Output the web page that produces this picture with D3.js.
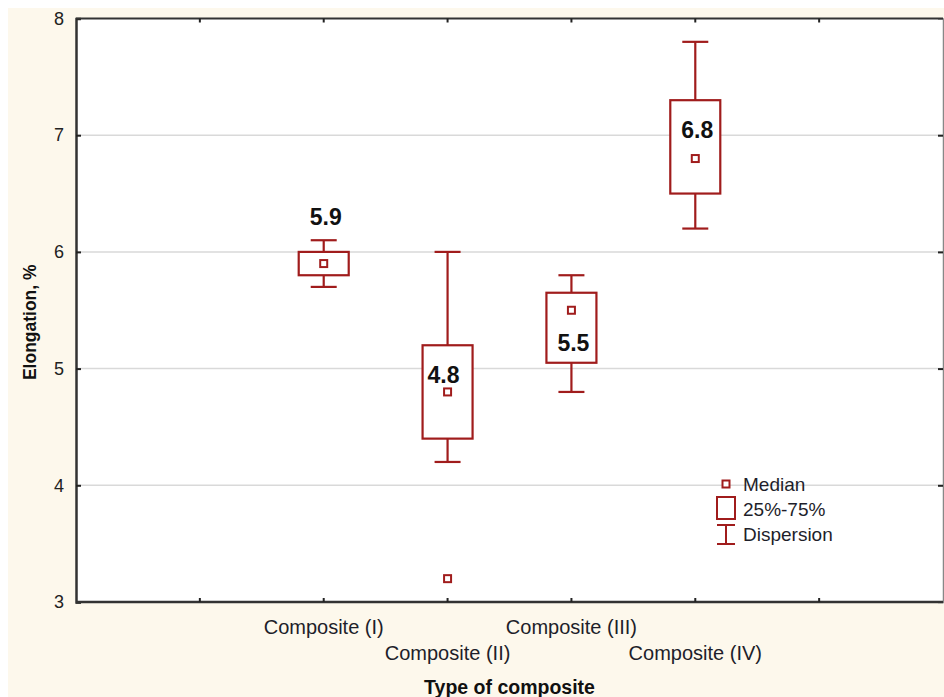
<!DOCTYPE html>
<html>
<head>
<meta charset="utf-8">
<script src="https://cdn.jsdelivr.net/npm/d3@7.9.0/dist/d3.min.js"></script>
<style>
  html, body { margin: 0; padding: 0; background: #fff; }
  svg { display: block; font-family: "Liberation Sans", Arial, sans-serif; }
</style>
</head>
<body>
<svg id="chart" width="944" height="697"></svg>
<script>
// box plot values
const categories = ['Composite (I)', 'Composite (II)', 'Composite (III)', 'Composite (IV)'];
const medians = [5.9, 4.8, 5.5, 6.8];
const q1 = [5.8, 4.4, 5.05, 6.5];
const q3 = [6.0, 5.2, 5.65, 7.3];
const whiskerLo = [5.7, 4.2, 4.8, 6.2];
const whiskerHi = [6.1, 6.0, 5.8, 7.8];
const outliers = [[], [3.2], [], []];
const labelAt = [6.3, 4.95, 5.22, 7.05];
const yTicks = [3, 4, 5, 6, 7, 8];

const red = '#a01c1c';
const svg = d3.select('#chart');

const margin = { left: 76, right: 1, top: 18.5, bottom: 95 };
const W = 944, H = 697;

let x = d3.scalePoint()
  .domain(categories)
  .range([margin.left, W - margin.right])
  .padding(2);

let y = d3.scaleLinear()
  .domain([3, 8])
  .range([H - margin.bottom, margin.top]);

// cream panel
svg.append('rect')
  .attr('x', 8).attr('y', 8)
  .attr('width', W - 8).attr('height', H - 8)
  .attr('fill', '#fdf8ec');

svg.append('rect')
  .attr('x', x.range()[0]).attr('y', y.range()[1])
  .attr('width', x.range()[1] - x.range()[0])
  .attr('height', y.range()[0] - y.range()[1])
  .attr('fill', '#fff');

// grid
svg.append('g')
  .selectAll('line')
  .data(yTicks.slice(1, -1))
  .join('line')
  .attr('x1', x.range()[0]).attr('x2', x.range()[1])
  .attr('y1', d => y(d)).attr('y2', d => y(d))
  .attr('stroke', '#d9d9d9')
  .attr('stroke-width', 1.5);

// axes (ticks pointing inward)
let yAxis = d3.axisLeft(y).tickValues(yTicks).tickSize(-5).tickPadding(12).tickFormat(d3.format('d'));
let gy = svg.append('g')
  .attr('transform', `translate(${x.range()[0]},0)`)
  .call(yAxis);
gy.select('.domain').attr('stroke', '#333').attr('stroke-width', 2.5);
gy.selectAll('.tick line').attr('stroke', '#222').attr('stroke-width', 2);
gy.selectAll('.tick text')
  .attr('font-size', 18)
  .attr('font-family', '"Liberation Sans", Arial, sans-serif')
  .attr('fill', '#222');

let yRight = d3.axisRight(y).tickValues(yTicks.slice(1, -1)).tickSize(-5).tickFormat('');
let gyr = svg.append('g')
  .attr('transform', `translate(${x.range()[1]},0)`)
  .call(yRight);
gyr.select('.domain').attr('stroke', '#888').attr('stroke-width', 1.5);
gyr.selectAll('.tick line').attr('stroke', '#222').attr('stroke-width', 2);

// minor ticks at every step along the category axis
let step = x.step();
let xTickPos = d3.range(1, Math.round((x.range()[1] - x.range()[0]) / step))
  .map(i => x.range()[0] + i * step);

let gx = svg.append('g');
gx.append('line')
  .attr('x1', x.range()[0]).attr('x2', x.range()[1])
  .attr('y1', y.range()[0]).attr('y2', y.range()[0])
  .attr('stroke', '#333').attr('stroke-width', 2.5);
gx.append('line')
  .attr('x1', x.range()[0]).attr('x2', x.range()[1])
  .attr('y1', y.range()[1]).attr('y2', y.range()[1])
  .attr('stroke', '#333').attr('stroke-width', 2);
gx.selectAll('.tb')
  .data(xTickPos)
  .join('line')
  .attr('class', 'tb')
  .attr('x1', d => d).attr('x2', d => d)
  .attr('y1', y.range()[0]).attr('y2', y.range()[0] - 4)
  .attr('stroke', '#222').attr('stroke-width', 2);
gx.selectAll('.tt')
  .data(xTickPos)
  .join('line')
  .attr('class', 'tt')
  .attr('x1', d => d).attr('x2', d => d)
  .attr('y1', y.range()[1]).attr('y2', y.range()[1] + 4)
  .attr('stroke', '#222').attr('stroke-width', 2);

// category labels, staggered on two rows
svg.append('g')
  .selectAll('text')
  .data(categories)
  .join('text')
  .attr('x', d => x(d))
  .attr('y', (d, i) => y.range()[0] + (i % 2 === 0 ? 32 : 58))
  .attr('text-anchor', 'middle')
  .attr('font-size', 20)
  .attr('fill', '#1e1e2a')
  .text(d => d);

svg.append('text')
  .attr('x', (x.range()[0] + x.range()[1]) / 2)
  .attr('y', 694)
  .attr('text-anchor', 'middle')
  .attr('font-size', 19.5)
  .attr('font-weight', 'bold')
  .attr('fill', '#111')
  .text('Type of composite');

svg.append('text')
  .attr('transform', `translate(36,${(y.range()[0] + y.range()[1]) / 2 + 12}) rotate(-90)`)
  .attr('text-anchor', 'middle')
  .attr('font-size', 17.5)
  .attr('font-weight', 'bold')
  .attr('fill', '#111')
  .text('Elongation, %');

// boxes
const boxW = 50, capW = 26, medS = 7;
let boxes = svg.append('g')
  .selectAll('g')
  .data(categories)
  .join('g')
  .attr('fill', 'none')
  .attr('stroke', red)
  .attr('stroke-width', 2.2);

boxes.append('line')
  .attr('x1', d => x(d)).attr('x2', d => x(d))
  .attr('y1', (d, i) => y(whiskerHi[i])).attr('y2', (d, i) => y(q3[i]));
boxes.append('line')
  .attr('x1', d => x(d)).attr('x2', d => x(d))
  .attr('y1', (d, i) => y(q1[i])).attr('y2', (d, i) => y(whiskerLo[i]));
boxes.append('line')
  .attr('x1', d => x(d) - capW / 2).attr('x2', d => x(d) + capW / 2)
  .attr('y1', (d, i) => y(whiskerHi[i])).attr('y2', (d, i) => y(whiskerHi[i]));
boxes.append('line')
  .attr('x1', d => x(d) - capW / 2).attr('x2', d => x(d) + capW / 2)
  .attr('y1', (d, i) => y(whiskerLo[i])).attr('y2', (d, i) => y(whiskerLo[i]));
boxes.append('rect')
  .attr('x', d => x(d) - boxW / 2)
  .attr('y', (d, i) => y(q3[i]))
  .attr('width', boxW)
  .attr('height', (d, i) => y(q1[i]) - y(q3[i]))
  .attr('fill', '#fff');
boxes.append('rect')
  .attr('x', d => x(d) - medS / 2)
  .attr('y', (d, i) => y(medians[i]) - medS / 2)
  .attr('width', medS).attr('height', medS)
  .attr('fill', '#fff')
  .attr('stroke-width', 2);
boxes.selectAll('.out')
  .data((d, i) => outliers[i].map(v => ({ c: d, v })))
  .join('rect')
  .attr('class', 'out')
  .attr('x', d => x(d.c) - medS / 2)
  .attr('y', d => y(d.v) - medS / 2)
  .attr('width', medS).attr('height', medS)
  .attr('fill', '#fff')
  .attr('stroke-width', 2);

// median value labels
svg.append('g')
  .selectAll('text')
  .data(categories)
  .join('text')
  .attr('x', (d, i) => x(d) + (i === 1 ? -4 : 2))
  .attr('y', (d, i) => y(labelAt[i]))
  .attr('dy', '0.36em')
  .attr('text-anchor', 'middle')
  .attr('font-size', 23)
  .attr('font-weight', 'bold')
  .attr('fill', '#111')
  .text((d, i) => d3.format('.1f')(medians[i]));

// legend
let lg = svg.append('g').attr('transform', 'translate(726,0)');
lg.append('rect')
  .attr('x', -3.5).attr('y', 480.5).attr('width', 7).attr('height', 7)
  .attr('fill', '#fff').attr('stroke', red).attr('stroke-width', 2);
lg.append('rect')
  .attr('x', -9).attr('y', 497).attr('width', 18).attr('height', 22)
  .attr('fill', '#fff').attr('stroke', red).attr('stroke-width', 2);
lg.append('path')
  .attr('d', 'M-9,525H9M0,525V544M-9,544H9')
  .attr('fill', 'none').attr('stroke', red).attr('stroke-width', 2);
lg.selectAll('text')
  .data(['Median', '25%-75%', 'Dispersion'])
  .join('text')
  .attr('x', 17)
  .attr('y', (d, i) => 484 + i * 25)
  .attr('dy', '0.36em')
  .attr('font-size', 19)
  .attr('fill', '#1e1e2a')
  .text(d => d);
</script>
</body>
</html>
